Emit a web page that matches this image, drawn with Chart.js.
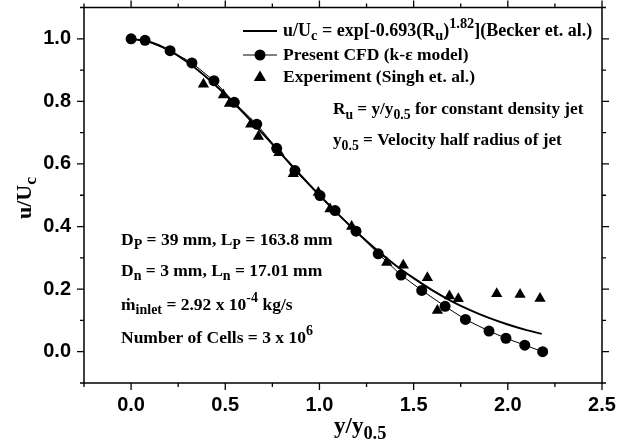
<!DOCTYPE html>
<html>
<head>
<meta charset="utf-8">
<script src="https://cdn.jsdelivr.net/npm/chart.js@4.4.1/dist/chart.umd.min.js"></script>
<style>
  html, body { margin: 0; padding: 0; background: #fff; }
  #wrap { width: 618px; height: 439px; }
</style>
</head>
<body>
<div id="wrap"><canvas id="chart"></canvas></div>
<script>
// Becker et al. correlation
const beckerX = [0, 0.1, 0.2, 0.3, 0.4, 0.5, 0.6, 0.7, 0.8, 0.9, 1.0, 1.1, 1.2, 1.3, 1.4, 1.5, 1.6, 1.7, 1.8, 1.9, 2.0, 2.1, 2.18];
const beckerY = [1.0, 0.99, 0.964, 0.925, 0.877, 0.822, 0.761, 0.696, 0.63, 0.564, 0.5, 0.439, 0.381, 0.327, 0.278, 0.235, 0.196, 0.162, 0.133, 0.108, 0.087, 0.069, 0.057];

// Present CFD (k-epsilon)
const cfdX = [0, 0.074, 0.207, 0.323, 0.44, 0.548, 0.667, 0.773, 0.87, 1.003, 1.083, 1.194, 1.312, 1.433, 1.543, 1.667, 1.775, 1.9, 1.99, 2.09, 2.185];
const cfdY = [1.0, 0.995, 0.962, 0.923, 0.866, 0.797, 0.727, 0.65, 0.579, 0.499, 0.451, 0.385, 0.313, 0.245, 0.196, 0.145, 0.103, 0.066, 0.043, 0.021, 0.0];

// Experiment (Singh et al.)
const expX = [0.384, 0.49, 0.522, 0.635, 0.676, 0.785, 0.861, 0.994, 1.056, 1.171, 1.357, 1.445, 1.573, 1.626, 1.69, 1.737, 1.941, 2.065, 2.171];
const expY = [0.855, 0.82, 0.793, 0.727, 0.688, 0.636, 0.569, 0.509, 0.456, 0.4, 0.285, 0.276, 0.236, 0.132, 0.178, 0.169, 0.185, 0.183, 0.17];

const xTicks = [0, 0.5, 1.0, 1.5, 2.0, 2.5];
const xMinorTicks = [-0.25, 0.25, 0.75, 1.25, 1.75, 2.25];
const yTicks = [0, 0.2, 0.4, 0.6, 0.8, 1.0];
const yMinorTicks = [-0.1, 0.1, 0.3, 0.5, 0.7, 0.9, 1.1];

// rich text rows: [text, "sub" | "sup" | ""]
const legendRows = [
  [["u/U", ""], ["c", "sub"], [" = exp[-0.693(R", ""], ["u", "sub"], [")", ""], ["1.82", "sup"], ["](Becker et. al.)", ""]],
  [["Present CFD (k-\u03b5 model)", ""]],
  [["Experiment (Singh et. al.)", ""]],
];
const noteRows = [
  [["R", ""], ["u", "sub"], [" = y/y", ""], ["0.5", "sub"], [" for constant density jet", ""]],
  [["y", ""], ["0.5", "sub"], [" = Velocity half radius of jet", ""]],
];
const paramRows = [
  [["D", ""], ["P", "sub"], [" = 39 mm, L", ""], ["P", "sub"], [" = 163.8 mm", ""]],
  [["D", ""], ["n", "sub"], [" = 3 mm, L", ""], ["n", "sub"], [" = 17.01 mm", ""]],
  [["\u1e41", ""], ["inlet", "sub"], [" = 2.92 x 10", ""], ["-4", "sup"], [" kg/s", ""]],
  [["Number of Cells = 3 x 10", ""], ["6", "sup"]],
];
const xTitle = [["y/y", ""], ["0.5", "sub"]];
const yTitle = [["u/U", ""], ["c", "sub"]];

const SERIF = '"Liberation Serif", "Times New Roman", serif';
const SANS = '"Liberation Sans", Arial, sans-serif';

const toPoints = (xs, ys) => xs.map((x, i) => ({ x, y: ys[i] }));

function richText(ctx, x, y, parts, size) {
  let cx = x;
  for (const [txt, kind] of parts) {
    const s = kind ? size * 0.8 : size;
    const dy = kind === "sub" ? size * 0.3 : kind === "sup" ? -size * 0.4 : 0;
    ctx.font = `bold ${s}px ${SERIF}`;
    ctx.fillText(txt, cx, y + dy);
    cx += ctx.measureText(txt).width;
  }
  return cx - x;
}

function richWidth(ctx, parts, size) {
  let w = 0;
  for (const [txt, kind] of parts) {
    ctx.font = `bold ${kind ? size * 0.8 : size}px ${SERIF}`;
    w += ctx.measureText(txt).width;
  }
  return w;
}

const framePlugin = {
  id: "frame",
  afterDraw(chart) {
    const { ctx, chartArea: a, scales } = chart;
    ctx.save();
    ctx.strokeStyle = "#000";
    ctx.fillStyle = "#000";
    ctx.lineWidth = 1.5;
    ctx.strokeRect(a.left, a.top, a.right - a.left, a.bottom - a.top);

    // tick marks, outward on all four sides
    ctx.lineWidth = 1.3;
    ctx.beginPath();
    const xt = (vals, len) => vals.forEach((v) => {
      const px = scales.x.getPixelForValue(v);
      ctx.moveTo(px, a.bottom); ctx.lineTo(px, a.bottom + len);
      ctx.moveTo(px, a.top); ctx.lineTo(px, a.top - len);
    });
    const yt = (vals, len) => vals.forEach((v) => {
      const py = scales.y.getPixelForValue(v);
      ctx.moveTo(a.left, py); ctx.lineTo(a.left - len, py);
      ctx.moveTo(a.right, py); ctx.lineTo(a.right + len, py);
    });
    xt(xTicks, 7); xt(xMinorTicks, 4);
    yt(yTicks, 7); yt(yMinorTicks, 4);
    ctx.stroke();

    // legend
    ctx.textBaseline = "middle";
    ctx.textAlign = "left";
    const lx0 = 243, lx1 = 277, tx = 283;
    const rowsY = [31, 55, 77];
    ctx.lineWidth = 2;
    ctx.beginPath(); ctx.moveTo(lx0, rowsY[0]); ctx.lineTo(lx1, rowsY[0]); ctx.stroke();
    ctx.lineWidth = 1;
    ctx.beginPath(); ctx.moveTo(lx0, rowsY[1]); ctx.lineTo(lx1, rowsY[1]); ctx.stroke();
    ctx.beginPath(); ctx.arc((lx0 + lx1) / 2, rowsY[1], 5.5, 0, Math.PI * 2); ctx.fill();
    const tcx = (lx0 + lx1) / 2, r = 6.5;
    ctx.beginPath();
    ctx.moveTo(tcx, rowsY[2] - r);
    ctx.lineTo(tcx + r * 0.95, rowsY[2] + r * 0.6);
    ctx.lineTo(tcx - r * 0.95, rowsY[2] + r * 0.6);
    ctx.closePath(); ctx.fill();
    legendRows.forEach((row, i) => richText(ctx, tx, rowsY[i], row, i === 0 ? 18 : 17.5));

    // notes
    [110, 141].forEach((y, i) => richText(ctx, 333, y, noteRows[i], 17.2));
    [240, 271, 305, 338].forEach((y, i) => richText(ctx, 121, y, paramRows[i], 17.5));

    // axis titles
    richText(ctx, 334, 427, xTitle, 23);
    ctx.translate(25, 198);
    ctx.rotate(-Math.PI / 2);
    const yw = richWidth(ctx, yTitle, 22);
    richText(ctx, -yw / 2, 0, yTitle, 22);
    ctx.restore();
  },
};

new Chart(document.getElementById("chart"), {
  type: "scatter",
  data: {
    datasets: [
      {
        label: "Becker",
        data: toPoints(beckerX, beckerY),
        showLine: true,
        borderColor: "#000",
        borderWidth: 2,
        pointRadius: 0,
        cubicInterpolationMode: "monotone",
      },
      {
        label: "Present CFD",
        data: toPoints(cfdX, cfdY),
        showLine: true,
        borderColor: "#000",
        backgroundColor: "#000",
        borderWidth: 1,
        pointStyle: "circle",
        pointRadius: 5.5,
        pointBorderWidth: 0,
      },
      {
        label: "Experiment",
        data: toPoints(expX, expY),
        showLine: false,
        backgroundColor: "#000",
        borderColor: "#000",
        pointStyle: "triangle",
        pointRadius: 6.5,
        pointBorderWidth: 0,
      },
    ],
  },
  options: {
    responsive: true,
    maintainAspectRatio: false,
    animation: false,
    devicePixelRatio: 1,
    layout: { padding: { top: 7.5, right: 16, left: 0, bottom: 0 } },
    plugins: { legend: { display: false }, tooltip: { enabled: false } },
    scales: {
      x: {
        type: "linear",
        min: -0.25,
        max: 2.5,
        afterBuildTicks: (axis) => { axis.ticks = xTicks.map((value) => ({ value })); },
        afterFit: (axis) => {
          axis.height = 56;
          axis.paddingLeft = 0;
          axis.paddingRight = 0;
        },
        ticks: {
          color: "#000",
          padding: 2,
          maxRotation: 0,
          font: { family: SANS, size: 20, weight: "bold" },
          callback: (v) => Number(v).toFixed(1),
        },
        grid: { display: false },
        border: { display: false },
      },
      y: {
        type: "linear",
        min: -0.1,
        max: 1.1,
        afterBuildTicks: (axis) => { axis.ticks = yTicks.map((value) => ({ value })); },
        afterFit: (axis) => {
          axis.width = 84;
          axis.paddingTop = 0;
          axis.paddingBottom = 0;
        },
        ticks: {
          color: "#000",
          padding: 5,
          font: { family: SANS, size: 20, weight: "bold" },
          callback: (v) => Number(v).toFixed(1),
        },
        grid: { display: false },
        border: { display: false },
      },
    },
  },
  plugins: [framePlugin],
});
</script>
</body>
</html>
